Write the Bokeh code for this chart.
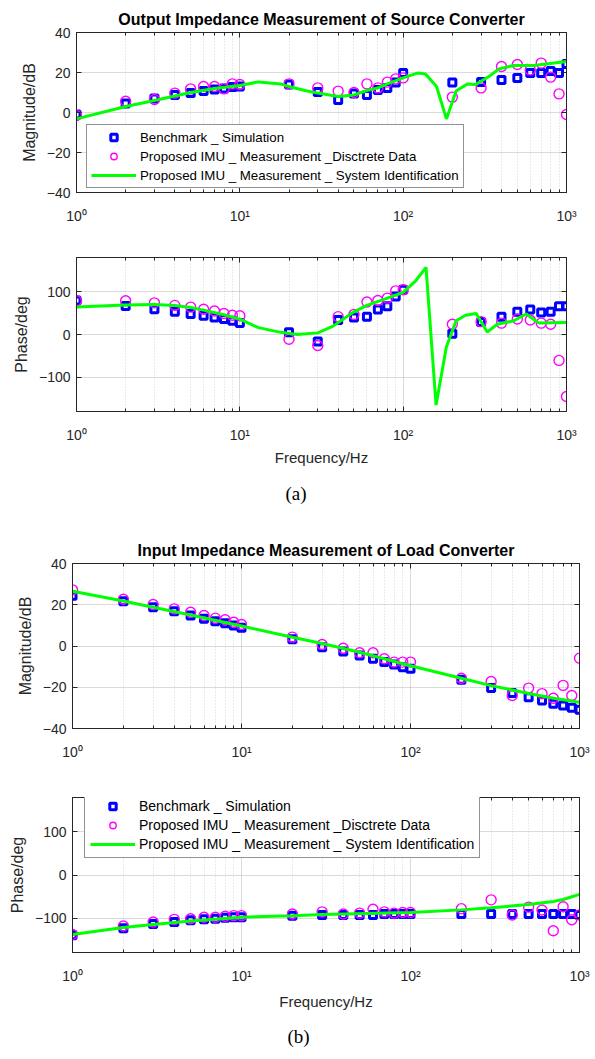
from bokeh.plotting import figure
from bokeh.models import (FixedTicker, CustomJSTickFormatter, LogAxis, LinearAxis,
                          Range1d, Legend, LegendItem, Title)
from bokeh.embed import file_html
from bokeh.resources import INLINE

# ---------------- data ----------------
freq = [1, 2, 3, 4, 5, 6, 7, 8, 9, 10, 20, 30, 40, 50, 60, 70, 80, 90, 100,
        200, 300, 400, 500, 600, 700, 800, 900, 1000]

# (a) Output impedance of source converter - magnitude (dB)
out_mag_bench = [-1, 4.5, 7, 8.7, 9.7, 10.7, 11.5, 12, 12.7, 13, 14, 10.2, 6.3, 9.5,
                 8.8, 11.3, 12.3, 15, 19.7, 15, 15.3, 16.3, 17.3, 19.7, 19.7, 20.7, 19.8, 24.3]
out_mag_meas = [-1.5, 5.6, 6.5, 9.7, 11.8, 13, 13, 11.8, 14.3, 14, 14.3, 12.3, 10.7, 10,
                14.3, 12.3, 15.2, 16.8, 17.3, 7.7, 12.3, 23, 24, 21.3, 24.7, 17.7, 9.3, -1]
out_mag_fit_f = [1, 2, 3, 5, 7, 10, 13, 17.8, 20, 25, 30, 40, 50, 60, 70, 80, 100,
                 122, 137, 160, 184, 211, 247, 278, 335, 386, 476, 631, 1000]
out_mag_fit = [-3.2, 3, 6, 10, 12, 13.5, 15.3, 14.3, 13, 11, 9.7, 8, 8.8, 11, 12.3, 14.3,
               17.3, 19.7, 19.3, 13, -3.2, 10.7, 14.3, 14, 18, 21.8, 23.5, 23.5, 25.5]

# (a) phase (deg)
out_ph_bench = [79.5, 66.8, 59, 53, 47.7, 44, 40, 36.4, 32, 27, 5.3, -16.6, 34, 40,
                41.7, 58.4, 66, 88.6, 104.6, 1.6, 29, 41.7, 53, 58.4, 51.6, 53, 66, 66]
out_ph_meas = [79, 79, 74, 68, 64, 59, 55, 49, 45, 44, -11, -25.7, 41.7, 47,
               76, 79.5, 85, 102, 104.6, 24, 30, 26.6, 36.4, 34, 26.6, 24, -60.6, -145]
out_ph_fit_f = [1, 2, 3, 4, 5, 6, 8, 10, 13, 17.8, 22.5, 30, 37, 50, 60, 80, 100,
                119, 138, 159, 184, 211, 241, 280, 327, 377, 476, 567, 678, 1000]
out_ph_fit = [64.5, 69, 70, 68, 63, 57, 46, 36, 16, 5, 0, 3.8, 19, 53, 68, 85, 98.6,
              125, 157, -165, -28.7, 32, 45, 49, 6, 24, 32, 48, 26.6, 28]

# (b) Input impedance of load converter - magnitude (dB)
in_mag_bench = [24.4, 21.7, 18.8, 16.8, 14.8, 13.2, 12, 11, 9.9, 8.8, 3.3, -0.6, -2.7,
                -4.6, -6.2, -7.8, -9, -10.3, -11, -16.4, -20.4, -22.8, -24.8, -26.4,
                -28, -28.8, -29.9, -30.9]
in_mag_meas = [27.2, 22.7, 20.1, 18, 16.4, 14.8, 13.5, 12.7, 11.5, 10.4, 4.3, 0.7, -1.1,
               -3.3, -3.3, -6.2, -7.8, -7.8, -7.8, -15.6, -17.2, -24, -20.4, -23.1,
               -25.3, -19.1, -24, -5.9]
in_mag_fit_f = [1, 2, 3, 5, 10, 20, 30, 50, 100, 200, 300, 500, 700, 1000]
in_mag_fit = [26.5, 21.8, 18.8, 15, 9.7, 4.2, 1.2, -3, -9.6, -15.6, -19.2, -23, -25.3, -27.3]

# (b) phase (deg)
in_ph_bench = [-139.7, -123.6, -114, -109, -105, -103, -101.6, -99.4, -98, -98, -94.4,
               -92.8, -92.8, -92.8, -92.8, -90.7, -90.7, -90.7, -90.7, -90.7, -90.7,
               -90.7, -90.7, -90.7, -90.7, -90.7, -90.7, -92.8]
in_ph_meas = [-138, -118.5, -109, -103, -101.6, -98, -98, -95.8, -94.4, -94.4, -90.7,
              -85.6, -90.7, -88.5, -79.7, -85.6, -88.5, -87, -87, -78.2, -57.7, -92.8,
              -74.6, -81.2, -129.5, -73.8, -103.8, -92.8]
in_ph_fit_f = [1, 2, 3, 5, 10, 20, 30, 100, 200, 300, 500, 700, 800, 1000]
in_ph_fit = [-138, -122, -115, -107, -98, -94.4, -92, -87, -81, -76, -68.7, -61.4, -57, -45]

x_major = [1, 10, 100, 1000]
x_minor = [2, 3, 4, 5, 6, 7, 8, 9, 20, 30, 40, 50, 60, 70, 80, 90,
           200, 300, 400, 500, 600, 700, 800, 900]
mag_ticks = [-40, -20, 0, 20, 40]
ph_ticks = [-100, 0, 100]

labels = ["Benchmark _ Simulation",
          "Proposed IMU _ Measurement _Disctrete Data",
          "Proposed IMU _ Measurement _ System Identification"]

FONT = "Liberation Sans"
AX = "#262626"

sup_fmt = CustomJSTickFormatter(code="""
const s = {"0":"\u2070","1":"\u00b9","2":"\u00b2","3":"\u00b3","-":"\u207b"};
const e = Math.round(Math.log10(tick));
return "10" + String(e).split("").map(c => s[c]).join("");
""")
blank_fmt = CustomJSTickFormatter(code="return '';")


def style_axis(ax, hidden=False):
    ax.major_tick_in = 5
    ax.major_tick_out = 0
    ax.minor_tick_in = 3
    ax.minor_tick_out = 0
    ax.axis_line_color = AX
    ax.major_tick_line_color = AX
    ax.minor_tick_line_color = AX
    ax.major_label_text_font = FONT
    ax.major_label_text_font_size = "14px"
    ax.major_label_text_color = AX
    ax.axis_label_text_font = FONT
    ax.axis_label_text_font_style = "normal"
    ax.axis_label_text_color = AX
    if hidden:
        ax.major_label_text_font_size = "1px"
        ax.major_label_standoff = 0


def make_fig(width, height, left, right, top, bottom, yr, yticks, ylabel,
             xlabel=None, title=None, sub=None, sub_offset=0,
             xlabel_standoff=3, sub_standoff=24):
    p = figure(width=width, height=height, x_axis_type="log",
               x_range=Range1d(1, 1000), y_range=Range1d(*yr),
               output_backend="svg", toolbar_location=None,
               min_border_left=left, min_border_right=right,
               min_border_top=top, min_border_bottom=bottom)
    p.background_fill_color = "white"
    p.border_fill_color = "white"
    p.outline_line_color = AX
    xt = FixedTicker(ticks=x_major, minor_ticks=x_minor)
    yt = FixedTicker(ticks=yticks, minor_ticks=[])
    p.xaxis.ticker = xt
    p.xaxis.formatter = sup_fmt
    p.yaxis.ticker = yt
    for ax in p.xaxis + p.yaxis:
        style_axis(ax)
    p.xaxis.major_label_standoff = 15
    p.yaxis.major_label_standoff = 6
    p.yaxis.axis_label = ylabel
    p.yaxis.axis_label_text_font_size = "16px"
    p.yaxis.axis_label_standoff = 6
    if xlabel:
        p.xaxis.axis_label = xlabel
        p.xaxis.axis_label_text_font_size = "15px"
        p.xaxis.axis_label_standoff = xlabel_standoff
    top_ax = LogAxis(ticker=xt, formatter=blank_fmt)
    right_ax = LinearAxis(ticker=yt, formatter=blank_fmt)
    style_axis(top_ax, hidden=True)
    style_axis(right_ax, hidden=True)
    p.add_layout(top_ax, "above")
    p.add_layout(right_ax, "right")
    p.xgrid.grid_line_color = "#b4b4b4"
    p.xgrid.grid_line_dash = "1 1"
    p.xgrid.minor_grid_line_color = "#d6d6d6"
    p.xgrid.minor_grid_line_dash = "1 2"
    p.ygrid.grid_line_color = "#b4b4b4"
    p.ygrid.grid_line_dash = "1 1"
    if title:
        p.title.text = title
        p.title.align = "center"
        p.title.text_font = FONT
        p.title.text_font_size = "16px"
        p.title.text_font_style = "bold"
        p.title.text_color = "black"
        p.title.standoff = 10
    if sub:
        t = Title(text=sub, align="left", text_font="Liberation Serif",
                  text_font_size="19px", text_font_style="normal",
                  text_color="black", standoff=sub_standoff, offset=sub_offset)
        p.add_layout(t, "below")
    return p


def add_data(p, xs, bench, meas, fit_f, fit):
    r1 = p.scatter(xs, bench, marker="square", size=7, line_color="#0000ff",
                   line_width=3, fill_color=None)
    r2 = p.scatter(xs, meas, marker="circle", size=10, line_color="#ff00ff",
                   line_width=1.4, fill_color=None)
    r3 = p.line(fit_f, fit, line_color="#00ff00", line_width=3)
    return [r1, r2, r3]


def add_legend(p, rs, loc, font_size, pad):
    leg = Legend(items=[LegendItem(label=l, renderers=[r]) for l, r in zip(labels, rs)],
                 location=loc, label_text_font=FONT, label_text_font_size=font_size,
                 label_text_color="black", glyph_width=45, glyph_height=16,
                 label_height=16, spacing=3, padding=pad, margin=0,
                 label_standoff=4, border_line_color=AX, border_line_width=1,
                 background_fill_color="white", background_fill_alpha=1.0)
    p.add_layout(leg, "center")


# ---- (a) ----
p1 = make_fig(595, 235, 76, 29, 32, 43, (-40, 40), mag_ticks, "Magnitude/dB",
              title="Output Impedance Measurement of Source Converter")
rs = add_data(p1, freq, out_mag_bench, out_mag_meas, out_mag_fit_f, out_mag_fit)
add_legend(p1, rs, (10, 4), "13.3px", 4)

p2 = make_fig(595, 280, 76, 29, 22, 99, (-180, 180), ph_ticks, "Phase/deg",
              xlabel="Frequency/Hz", sub="(a)", sub_offset=209,
              xlabel_standoff=3, sub_standoff=24)
add_data(p2, freq, out_ph_bench, out_ph_meas, out_ph_fit_f, out_ph_fit)

# ---- (b) ----
p3 = make_fig(595, 250, 72, 16, 48, 37, (-40, 40), mag_ticks, "Magnitude/dB",
              title="Input Impedance Measurement of Load Converter")
add_data(p3, freq, in_mag_bench, in_mag_meas, in_mag_fit_f, in_mag_fit)

p4 = make_fig(595, 293, 72, 16, 32, 97, (-180, 180), ph_ticks, "Phase/deg",
              xlabel="Frequency/Hz", sub="(b)", sub_offset=215,
              xlabel_standoff=6, sub_standoff=23)
rs4 = add_data(p4, freq, in_ph_bench, in_ph_meas, in_ph_fit_f, in_ph_fit)
add_legend(p4, rs4, (12, 94), "14px", 5)

open("out.html", "w").write(file_html([p1, p2, p3, p4], INLINE))
